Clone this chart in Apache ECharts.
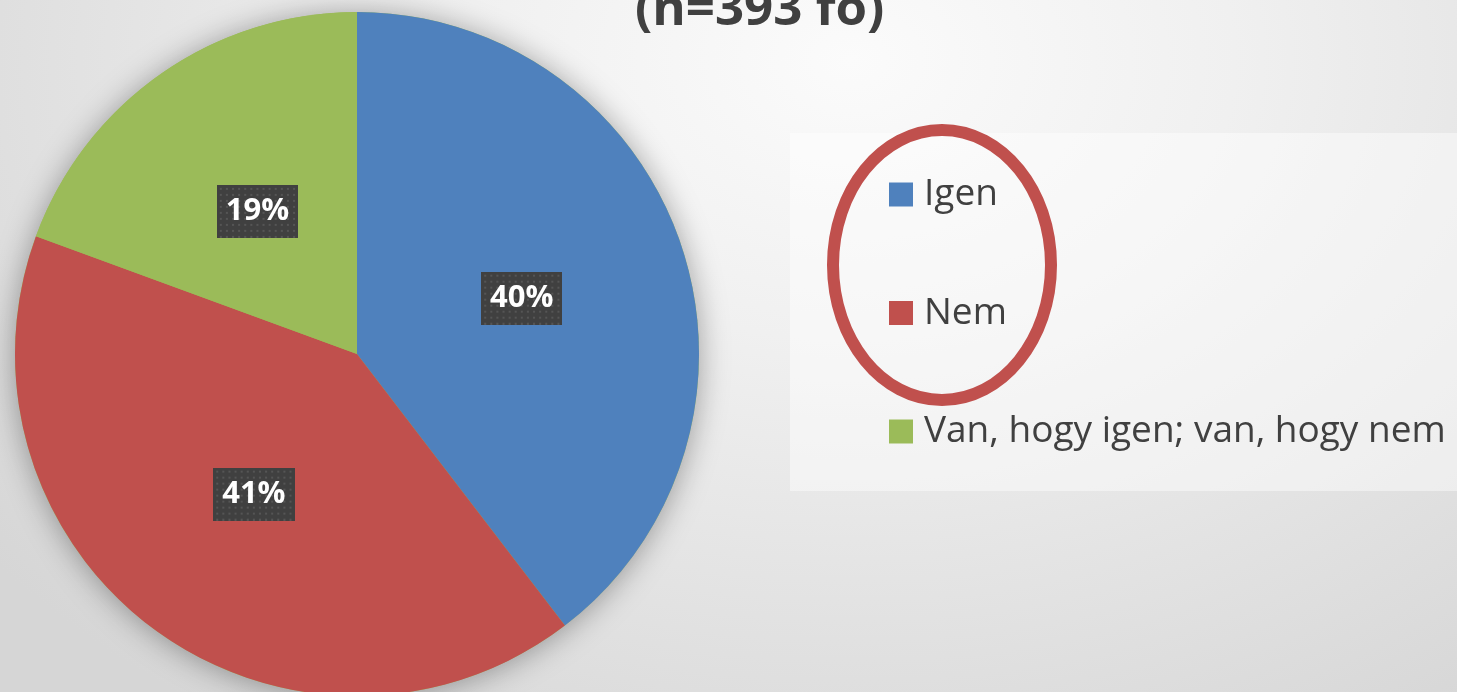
<!DOCTYPE html>
<html>
<head>
<meta charset="utf-8">
<script src="https://cdn.jsdelivr.net/npm/echarts@6/dist/echarts.min.js"></script>
<style>
html,body{margin:0;padding:0;}
#chart{width:1457px;height:692px;background:radial-gradient(ellipse 1100px 800px at 850px 60px,#fbfbfb 0%,#f0f0f0 35%,#e2e2e2 70%,#d6d6d6 100%);}
</style>
</head>
<body>
<div id="chart"></div>
<script>
const titleText = '(n=393 fő)';
const categories = ['Igen', 'Nem', 'Van, hogy igen; van, hogy nem'];
const values = [39.6, 41.0, 19.4];
const colors = ['#4f81bd', '#c0504d', '#9bbb59'];

function dotPattern(w, h) {
  const c = document.createElement('canvas');
  c.width = w; c.height = h;
  const g = c.getContext('2d');
  g.fillStyle = '#404040';
  g.fillRect(0, 0, w, h);
  g.fillStyle = '#555555';
  for (let y = 3; y < h; y += 6) {
    for (let x = 3; x < w; x += 6) {
      g.fillRect(x, y, 2, 2);
    }
  }
  return c;
}
const bgImg = dotPattern(80, 53);

const chart = echarts.init(document.getElementById('chart'));
const total = values.reduce((a, b) => a + b, 0);

chart.setOption({
  backgroundColor: 'transparent',
  animation: false,
  title: {
    text: titleText,
    left: 635,
    top: -15,
    padding: 0,
    textStyle: { fontFamily: 'Open Sans', fontWeight: 'bold', fontSize: 51, color: '#404040' }
  },
  legend: {
    data: categories,
    orient: 'vertical',
    left: 889,
    top: 176,
    padding: 0,
    itemWidth: 24,
    itemHeight: 24,
    itemGap: 81.5,
    icon: 'rect',
    selectedMode: false,
    textStyle: { fontFamily: 'Open Sans', fontSize: 37, color: '#404040', lineHeight: 24, padding: [0, 0, 0, 6] }
  },
  graphic: [
    {
      type: 'rect', z: -10, silent: true,
      shape: { x: 790, y: 133, width: 667, height: 358 },
      style: { fill: 'rgba(255,255,255,0.45)' }
    },
    {
      type: 'ellipse', z: 10, silent: true,
      shape: { cx: 942, cy: 265, rx: 109, ry: 135 },
      style: { fill: 'none', stroke: '#c0504d', lineWidth: 12 }
    }
  ],
  series: [
    {
      type: 'pie',
      name: 'shadow',
      silent: true,
      z: 1,
      center: [357, 354],
      radius: 342,
      label: { show: false },
      labelLine: { show: false },
      itemStyle: { color: '#9bbb59', shadowBlur: 30, shadowColor: 'rgba(0,0,0,0.35)', shadowOffsetY: 2 },
      data: [{ name: '_total', value: total }]
    },
    {
      type: 'pie',
      z: 2,
      center: [357, 354],
      radius: 342,
      startAngle: 90,
      clockwise: true,
      silent: true,
      labelLine: { show: false },
      itemStyle: { borderWidth: 0 },
      label: {
        show: true,
        position: 'inside',
        formatter: p => Math.round(p.value) + '%',
        color: '#ffffff',
        fontFamily: 'Open Sans',
        fontWeight: 'bold',
        fontSize: 31,
        lineHeight: 30,
        overflow: 'none',
        padding: [12, 9, 11, 9],
        backgroundColor: { image: bgImg },
        shadowColor: 'rgba(0,0,0,0.45)',
        shadowBlur: 6,
        shadowOffsetX: 4,
        shadowOffsetY: 4
      },
      data: categories.map((n, i) => ({ name: n, value: values[i], itemStyle: { color: colors[i] } }))
    }
  ]
});
</script>
</body>
</html>
